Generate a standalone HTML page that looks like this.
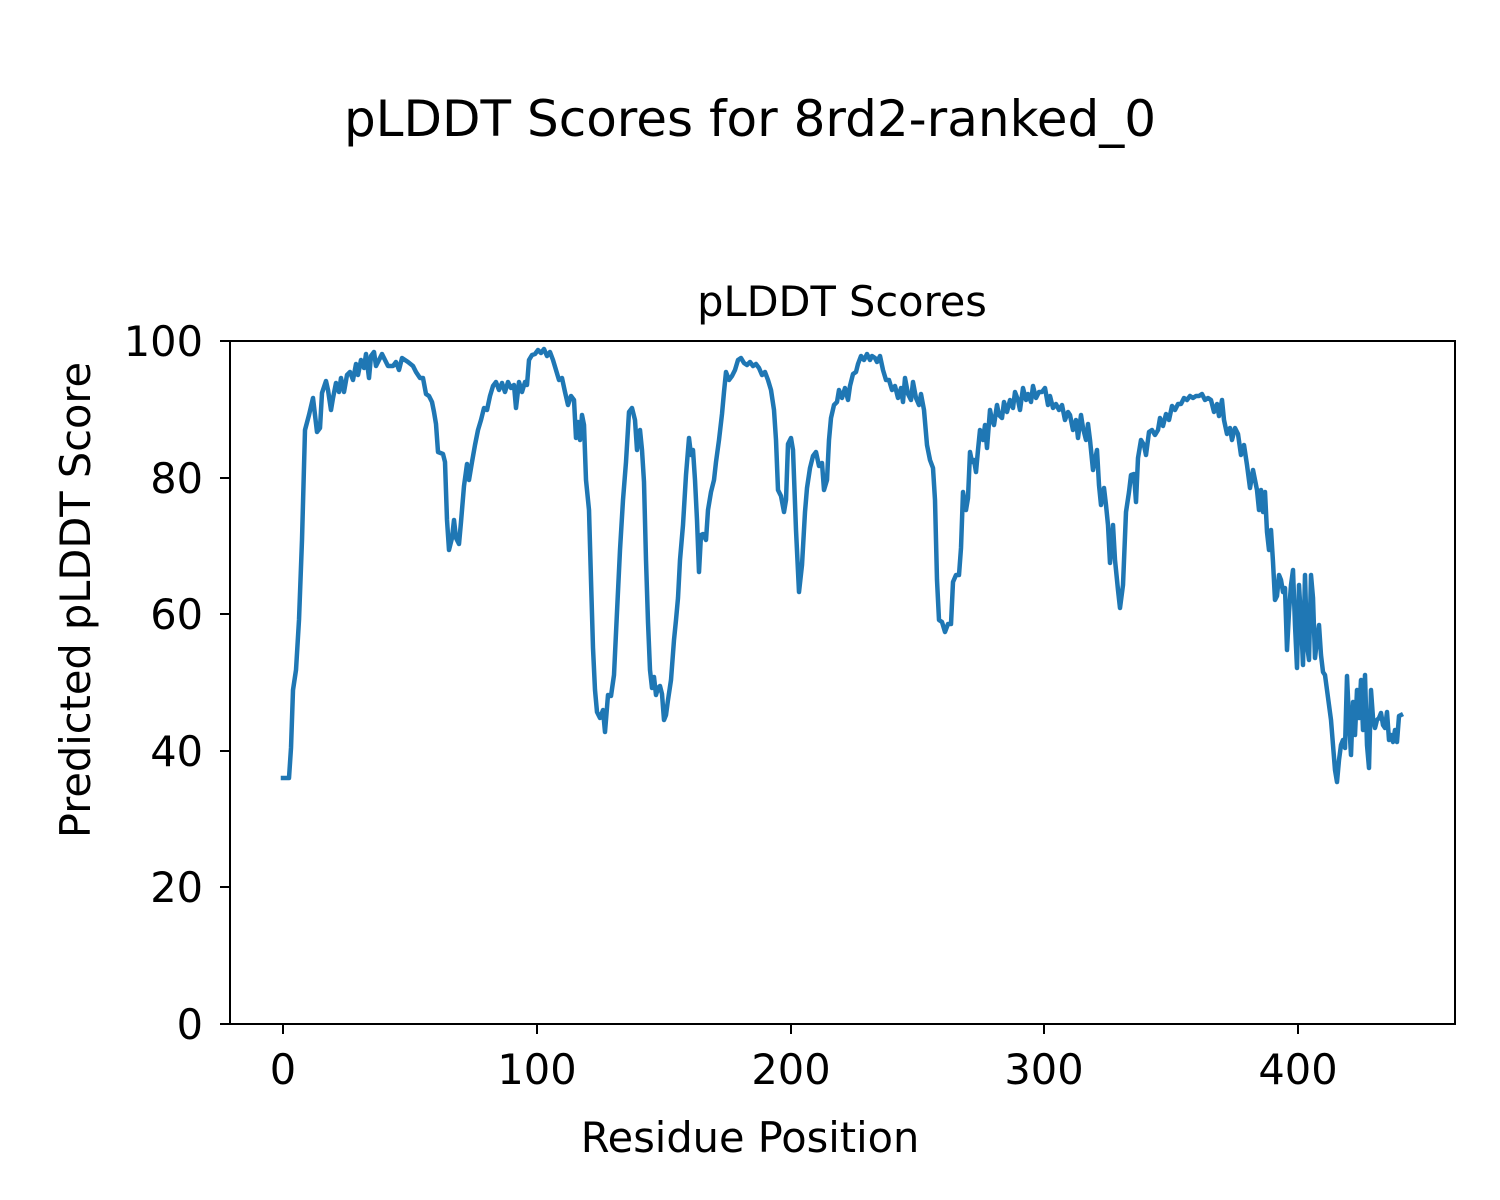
<!DOCTYPE html>
<html><head><meta charset="utf-8"><style>body{margin:0;background:#fff}svg{display:block}text{font-family:"DejaVu Sans","Liberation Sans",sans-serif;fill:#000}</style></head><body>
<svg width="1500" height="1200" viewBox="0 0 1500 1200" xmlns="http://www.w3.org/2000/svg">
<rect width="1500" height="1200" fill="#fff"/>
<text x="750" y="136" font-size="50" text-anchor="middle">pLDDT Scores for 8rd2-ranked_0</text>
<text x="842" y="316" font-size="41.5" text-anchor="middle">pLDDT Scores</text>
<polyline fill="none" stroke="#1f77b4" stroke-width="4.5" stroke-linejoin="round" stroke-linecap="square" points="283,778 289,778 291,748 293,690 296,670 299,620 302,540 305,430 309,415 313,398 317,432 320,428 322,393 326,381 328,390 331,410 333,398 336,383 339,392 341,378 344,392 347,375 350,372 353,380 356,364 358,375 361,360 364,368 366,354 369,378 371,356 374,352 376,366 379,360 382,354 385,360 388,366 393,366 396,362 399,370 402,358 408,362 413,366 416,372 420,378 423,378 426,394 429,396 432,402 434,412 436,424 438,452 443,454 445,462 447,520 449,550 452,538 454,520 456,538 459,544 461,522 464,486 467,464 469,480 472,462 475,445 478,430 481,420 484,408 487,410 490,396 493,386 496,382 499,390 502,383 505,392 508,382 511,388 514,385 516,408 519,382 522,392 525,382 527,385 529,360 532,355 535,354 538,350 541,353 544,349 547,356 550,352 553,360 556,370 559,380 562,378 565,392 568,405 571,396 574,400 576,438 578,422 580,440 582,415 584,425 586,480 589,510 591,580 593,648 595,690 597,712 600,718 603,710 605,732 608,695 611,696 614,675 617,612 620,550 623,500 626,462 629,412 632,408 635,420 637,450 640,430 642,450 644,482 646,560 648,622 650,670 652,688 654,677 656,695 658,688 660,686 662,694 664,720 666,715 668,700 671,680 674,640 676,620 678,598 680,560 683,525 686,475 689,438 691,455 693,450 695,480 697,520 699,572 701,535 703,534 706,540 708,510 711,492 714,480 716,462 719,440 722,414 724,392 726,372 729,380 732,376 735,370 738,360 741,358 744,363 747,365 750,362 753,366 756,364 759,368 762,375 765,372 768,380 771,390 774,410 776,440 778,490 781,496 784,512 786,500 788,444 791,438 793,450 796,530 799,592 802,565 805,512 807,488 810,468 813,456 816,452 819,466 822,463 824,490 827,480 829,440 831,418 834,405 837,402 839,390 842,398 845,388 848,400 850,386 853,374 856,372 858,364 861,356 864,360 867,354 870,360 872,356 875,358 877,362 880,356 883,370 886,380 889,380 892,390 895,386 898,398 901,388 903,402 905,378 908,394 911,400 913,382 916,398 919,405 921,394 924,410 927,445 930,460 933,468 935,500 937,580 939,620 942,622 945,632 948,624 951,624 953,582 956,575 959,575 961,548 963,492 966,510 968,498 970,452 972,462 974,460 976,472 978,450 980,430 983,440 985,425 987,448 990,410 992,420 994,425 997,405 999,415 1002,418 1004,402 1007,412 1010,400 1013,408 1015,392 1018,400 1020,410 1023,388 1026,400 1028,394 1031,402 1033,386 1036,398 1039,392 1042,392 1045,388 1048,405 1050,396 1053,408 1056,404 1059,410 1062,405 1065,420 1068,412 1070,415 1073,430 1076,420 1078,438 1081,415 1083,428 1086,440 1088,424 1090,440 1093,470 1095,460 1097,450 1099,485 1101,505 1104,488 1106,505 1108,525 1110,563 1113,525 1115,560 1118,590 1120,608 1123,585 1126,512 1129,492 1131,475 1134,474 1136,502 1138,458 1141,440 1144,445 1146,455 1149,432 1152,430 1155,435 1158,430 1160,418 1163,426 1166,414 1169,420 1172,406 1175,410 1178,404 1181,404 1184,398 1187,400 1190,396 1193,398 1196,396 1199,396 1202,394 1205,400 1208,398 1211,400 1214,412 1217,404 1219,416 1222,400 1224,420 1227,434 1230,428 1232,440 1235,428 1238,434 1241,455 1244,445 1247,465 1250,488 1253,470 1255,480 1257,490 1259,510 1261,490 1263,512 1265,492 1267,532 1269,550 1271,530 1273,562 1275,600 1277,596 1279,575 1281,580 1283,592 1285,588 1287,650 1289,612 1291,585 1293,570 1295,625 1297,668 1299,585 1301,620 1303,665 1305,575 1307,645 1309,660 1311,575 1313,598 1315,658 1317,640 1319,625 1321,655 1323,672 1325,675 1327,690 1329,705 1331,720 1333,745 1335,770 1337,782 1339,760 1341,745 1343,740 1345,748 1347,676 1349,720 1351,755 1353,702 1355,735 1357,690 1359,718 1361,680 1363,730 1365,675 1367,745 1369,768 1371,690 1373,718 1375,728 1377,720 1379,718 1381,713 1383,725 1385,728 1387,712 1389,740 1391,735 1393,742 1395,730 1397,742 1399,716 1401,715"/>
<rect x="230" y="341" width="1225" height="683" fill="none" stroke="#000" stroke-width="2"/>
<g stroke="#000" stroke-width="2">
<line x1="283" y1="1024" x2="283" y2="1034"/><line x1="537" y1="1024" x2="537" y2="1034"/><line x1="791" y1="1024" x2="791" y2="1034"/><line x1="1044" y1="1024" x2="1044" y2="1034"/><line x1="1298" y1="1024" x2="1298" y2="1034"/>
<line x1="230" y1="341" x2="220" y2="341"/><line x1="230" y1="478" x2="220" y2="478"/><line x1="230" y1="614" x2="220" y2="614"/><line x1="230" y1="751" x2="220" y2="751"/><line x1="230" y1="887" x2="220" y2="887"/><line x1="230" y1="1024" x2="220" y2="1024"/>
</g>
<g font-size="41.5" text-anchor="middle">
<text x="283" y="1084">0</text><text x="537" y="1084">100</text><text x="791" y="1084">200</text><text x="1044" y="1084">300</text><text x="1298" y="1084">400</text>
</g>
<g font-size="41.5" text-anchor="end">
<text x="203" y="356">100</text><text x="203" y="493">80</text><text x="203" y="629">60</text><text x="203" y="766">40</text><text x="203" y="902">20</text><text x="203" y="1039">0</text>
</g>
<text x="750" y="1152" font-size="41.5" text-anchor="middle">Residue Position</text>
<text transform="translate(90,600) rotate(-90)" font-size="41.5" text-anchor="middle">Predicted pLDDT Score</text>
</svg>
</body></html>
